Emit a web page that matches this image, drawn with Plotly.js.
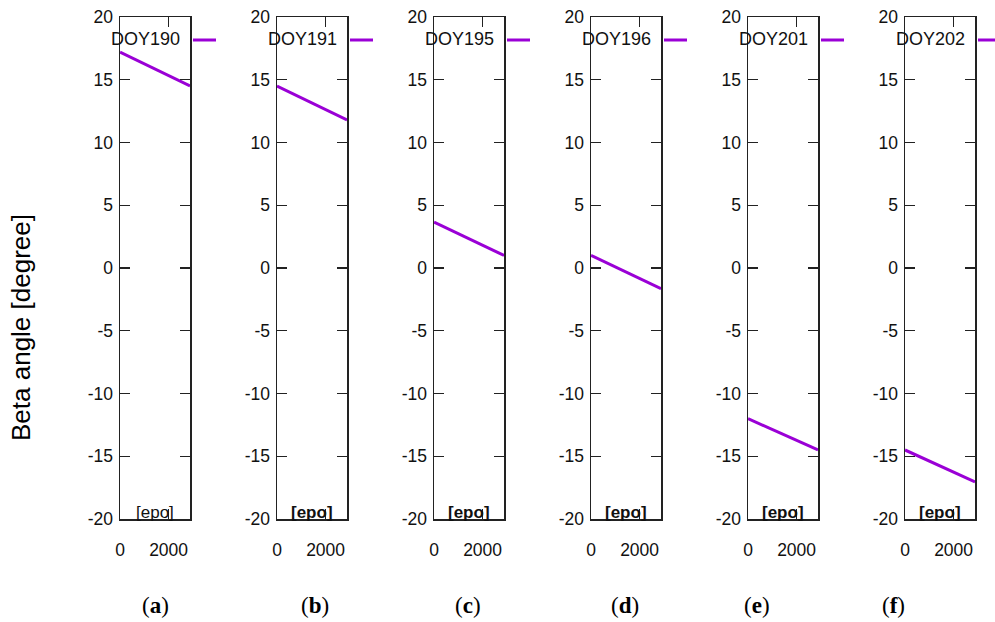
<!DOCTYPE html>
<html>
<head>
<meta charset="utf-8">
<script src="https://cdn.plot.ly/plotly-3.0.1.min.js"></script>
<style>html,body{margin:0;padding:0;background:#fff;}#chart{width:995px;height:622px;}</style>
</head>
<body>
<div id="chart"></div>
<script>
// ---- data ----
const days = ['DOY190', 'DOY191', 'DOY195', 'DOY196', 'DOY201', 'DOY202'];
const panelLetters = ['a', 'b', 'c', 'd', 'e', 'f'];
const epochs = [0, 2880];
const beta190 = [17.2, 14.5];
const beta191 = [14.5, 11.8];
const beta195 = [3.65, 1.0];
const beta196 = [1.0, -1.65];
const beta201 = [-12.0, -14.5];
const beta202 = [-14.5, -17.05];
const xTickVals = [0, 2000];
const xTickText = ['0', '2000'];
const yTickVals = [-20, -15, -10, -5, 0, 5, 10, 15, 20];
const yTickText = ['-20', '-15', '-10', '-5', '0', '5', '10', '15', '20'];
const xAxisLabel = '[epo]';
const yAxisLabel = 'Beta angle [degree]';
const series = [beta190, beta191, beta195, beta196, beta201, beta202];

// ---- layout helpers ----
const W = 995, H = 622;
const boxLeft0 = 120, boxW = 70, step = 157;
const boxTop = 17, boxBottom = 519;
const letterX = [155, 315, 468, 625, 757, 893];
const lineColor = '#9A00D6';
const sans = 'Liberation Sans, Arial, sans-serif';

const traces = [];
const layout = {
  width: W, height: H,
  margin: {l: 0, r: 0, t: 0, b: 0},
  paper_bgcolor: '#fff', plot_bgcolor: '#fff',
  showlegend: false,
  annotations: [], shapes: []
};

series.forEach((vals, i) => {
  const n = i + 1;
  const sfx = n === 1 ? '' : String(n);
  traces.push({
    x: epochs, y: vals, type: 'scatter', mode: 'lines',
    xaxis: 'x' + sfx, yaxis: 'y' + sfx,
    line: {color: lineColor, width: 3},
    name: days[i], hoverinfo: 'skip'
  });
  const left = boxLeft0 + step * i;
  const axCommon = {
    showgrid: false, zeroline: false, showline: true, linecolor: '#222', linewidth: 1.5,
    mirror: 'ticks', ticks: 'inside', ticklen: 10, tickwidth: 1.3, tickcolor: '#222',
    tickfont: {family: sans, size: 17.5, color: '#111'}, fixedrange: true
  };
  layout['xaxis' + sfx] = Object.assign({}, axCommon, {
    domain: [left / W, (left + boxW) / W], anchor: 'y' + sfx,
    range: [0, 2880], tickmode: 'array', tickvals: xTickVals, ticktext: xTickText,
    ticklabelstandoff: 14
  });
  layout['yaxis' + sfx] = Object.assign({}, axCommon, {
    domain: [1 - boxBottom / H, 1 - boxTop / H], anchor: 'x' + sfx,
    range: [-20, 20], tickmode: 'array', tickvals: yTickVals, ticktext: yTickText,
    ticklabelstandoff: 2
  });
  // legend text + sample
  layout.annotations.push({
    xref: 'paper', yref: 'paper', x: (left + 62) / W, y: 1 - 39 / H,
    xanchor: 'right', yanchor: 'middle', showarrow: false,
    text: days[i], font: {family: sans, size: 18, color: '#111'}
  });
  layout.shapes.push({
    type: 'line', xref: 'paper', yref: 'paper',
    x0: (left + boxW + 3) / W, x1: (left + boxW + 26) / W,
    y0: 1 - 40 / H, y1: 1 - 40 / H,
    line: {color: lineColor, width: 3}
  });
  // x label inside box
  layout.annotations.push({
    xref: 'paper', yref: 'paper', x: (left + boxW / 2) / W, y: 1 - 512 / H,
    xanchor: 'center', yanchor: 'middle', showarrow: false,
    text: i < 1 ? xAxisLabel : '<b>' + xAxisLabel + '</b>',
    font: {family: sans, size: 17, color: '#111'}
  });
  // panel letter
  layout.annotations.push({
    xref: 'paper', yref: 'paper', x: letterX[i] / W, y: 1 - 605 / H,
    xanchor: 'center', yanchor: 'middle', showarrow: false,
    text: '(<b>' + panelLetters[i] + '</b>)',
    font: {family: 'Liberation Serif, Times New Roman, serif', size: 23, color: '#000'}
  });
});

layout.annotations.push({
  xref: 'paper', yref: 'paper', x: 21 / W, y: 1 - 328 / H,
  xanchor: 'center', yanchor: 'middle', showarrow: false, textangle: -90,
  text: yAxisLabel, font: {family: sans, size: 26, color: '#000'}
});

Plotly.newPlot('chart', traces, layout, {displayModeBar: false, staticPlot: true});
</script>
</body>
</html>
